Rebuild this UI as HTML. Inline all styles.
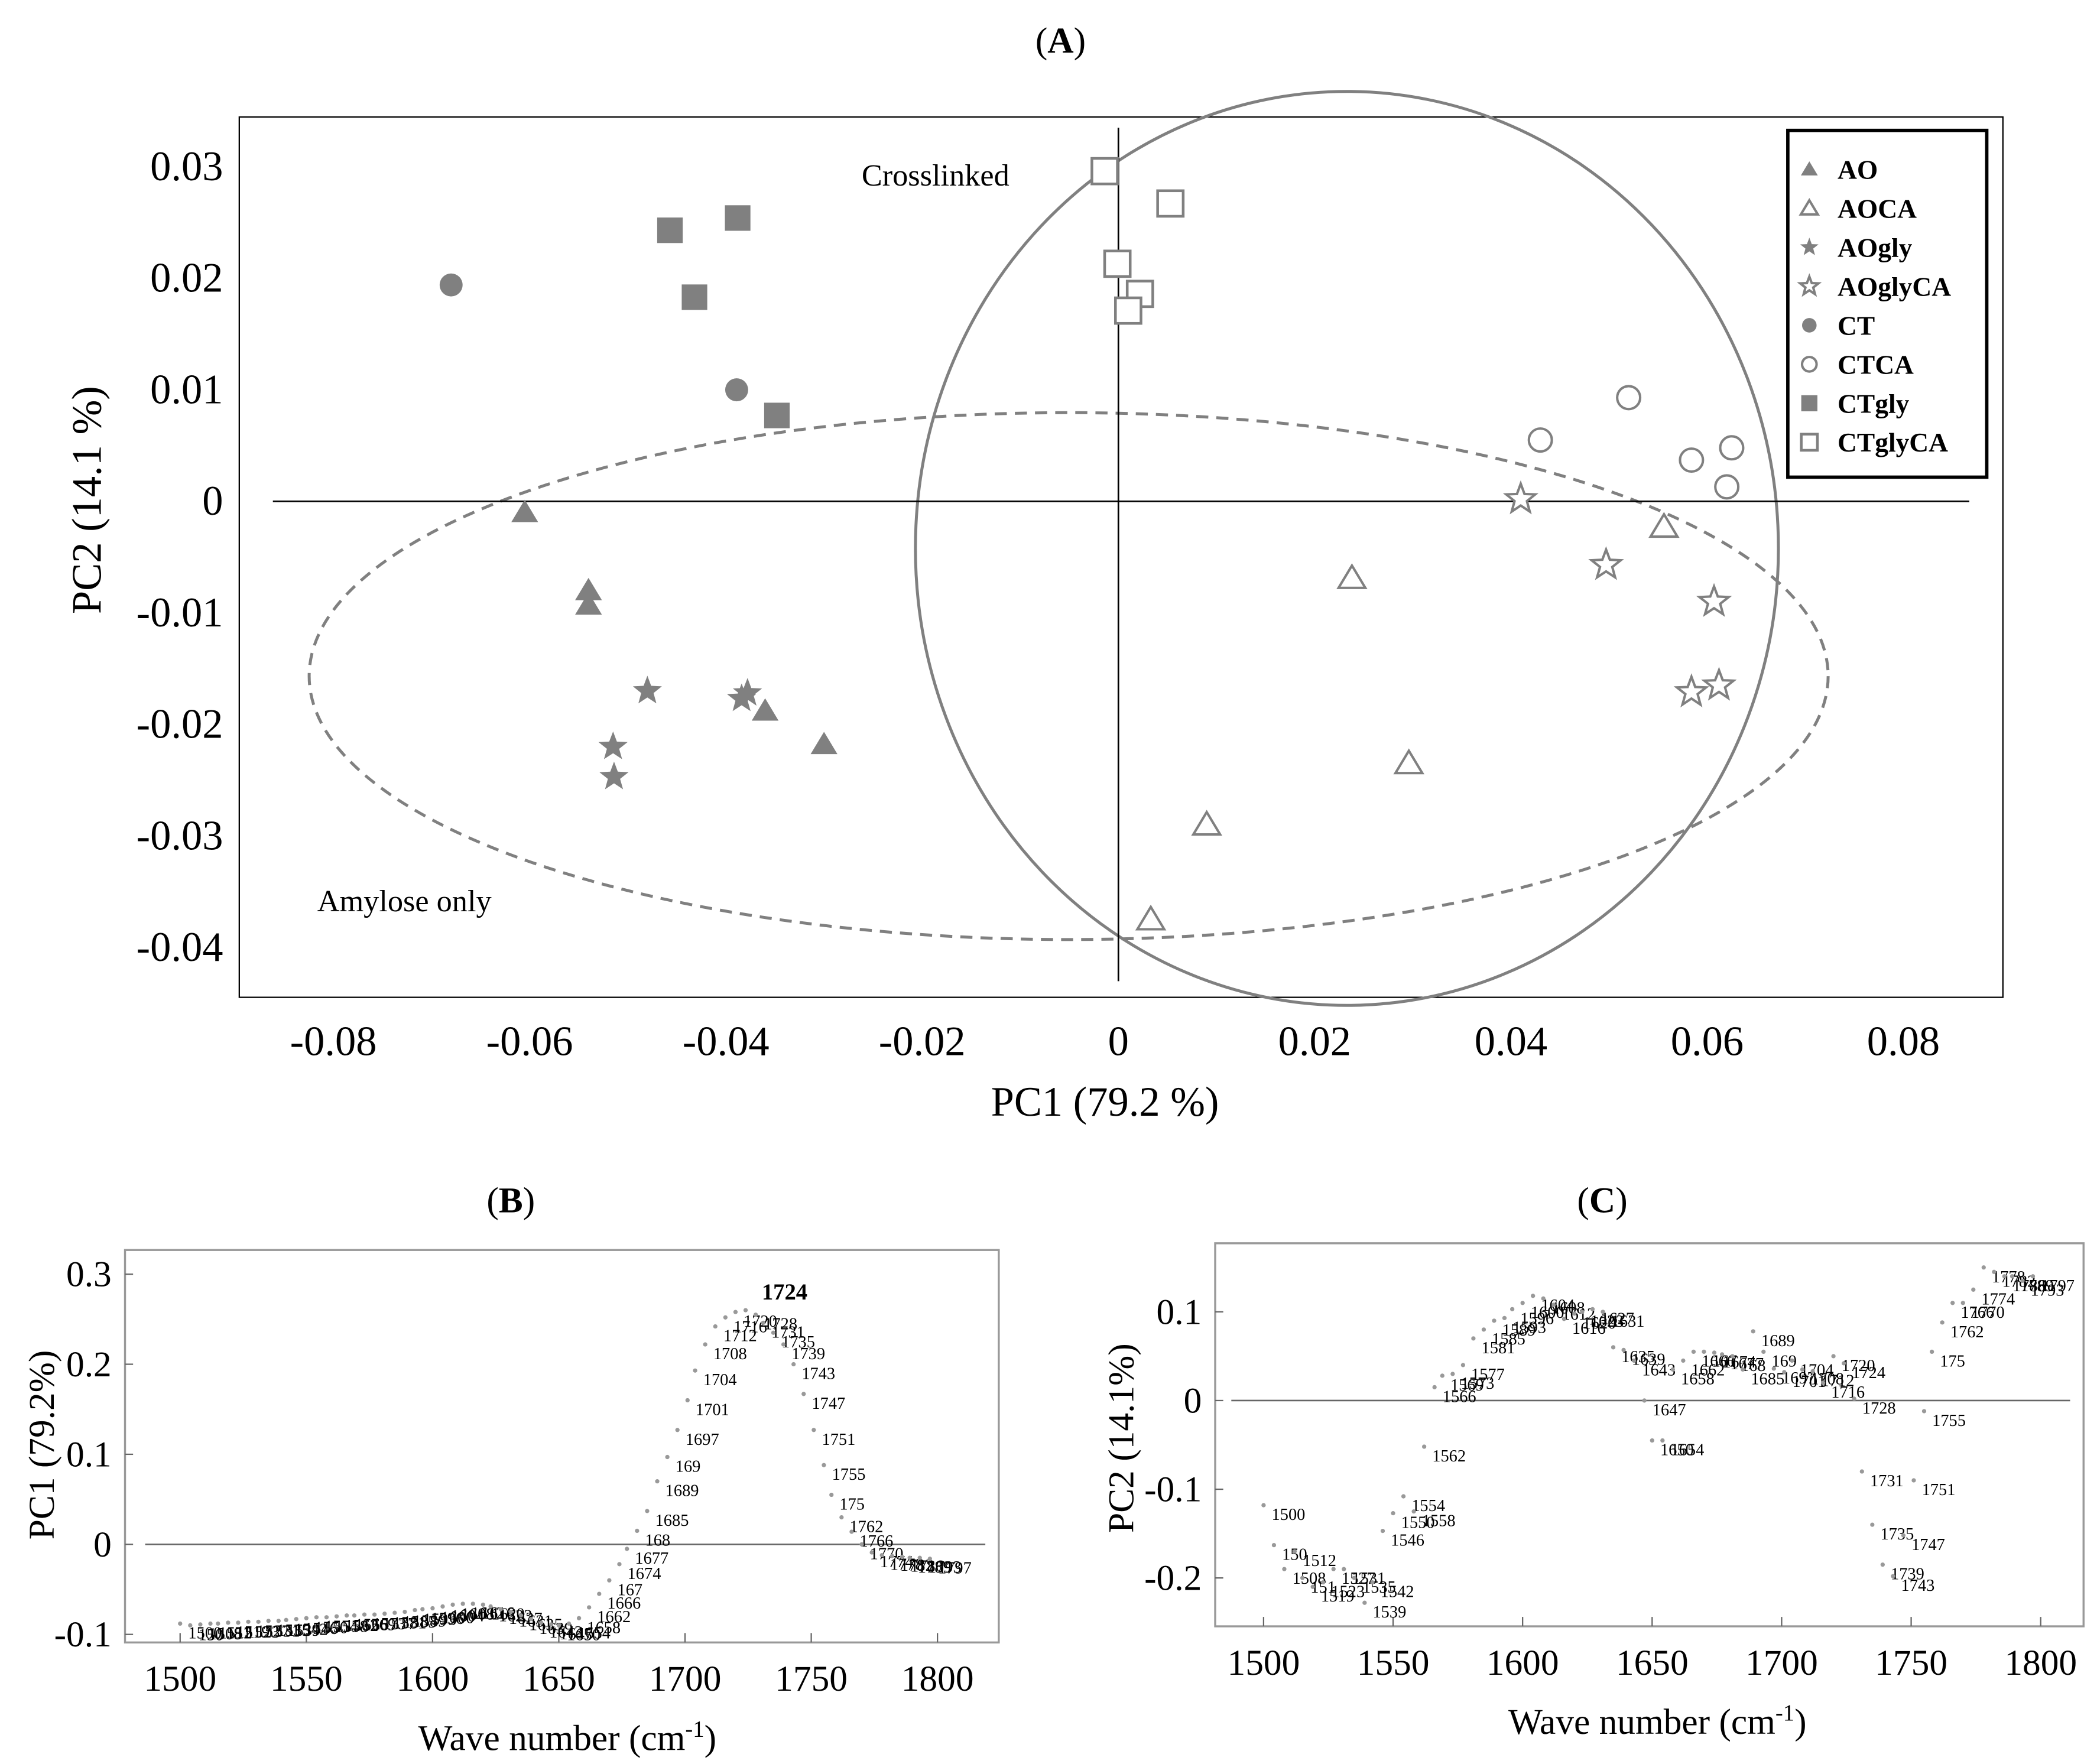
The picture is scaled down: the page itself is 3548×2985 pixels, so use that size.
<!DOCTYPE html>
<html><head><meta charset="utf-8"><style>
html,body{margin:0;padding:0;background:#fff}
svg{display:block;font-family:"Liberation Serif",serif}
</style></head><body>
<svg id="fig" width="3548" height="2985" viewBox="0 0 1560 1312.4" xmlns="http://www.w3.org/2000/svg">
<rect width="1560" height="1312.4" fill="#fff"/>
<g id="pa"></g>
<g id="pb"></g>
<g id="pc"></g>
</svg>
<script>
// ---------- Panel A data ----------
const groups = ["AO","AOCA","AOgly","AOglyCA","CT","CTCA","CTgly","CTglyCA"];
const AO_x = [-0.0605,-0.054,-0.054,-0.036,-0.030];
const AO_y = [-0.001,-0.008,-0.0093,-0.0188,-0.0218];
const AOCA_x = [0.0238,0.0556,0.0296,0.009,0.0033];
const AOCA_y = [-0.0069,-0.0023,-0.0235,-0.029,-0.0375];
const AOgly_x = [-0.048,-0.0515,-0.0514,-0.0384,-0.0378];
const AOgly_y = [-0.017,-0.022,-0.0247,-0.0177,-0.0172];
const AOglyCA_x = [0.041,0.0497,0.0607,0.0584,0.0612];
const AOglyCA_y = [0.0002,-0.0057,-0.009,-0.0171,-0.0165];
const CT_x = [-0.068,-0.0389];
const CT_y = [0.0194,0.010];
const CTCA_x = [0.043,0.052,0.0584,0.0625,0.062];
const CTCA_y = [0.0055,0.0093,0.0037,0.0048,0.0013];
const CTgly_x = [-0.0457,-0.0388,-0.0432,-0.0348];
const CTgly_y = [0.0243,0.0254,0.0183,0.0077];
const CTglyCA_x = [-0.0014,0.0053,-0.0001,0.0022,0.001];
const CTglyCA_y = [0.0296,0.0267,0.0213,0.0186,0.0171];
const aXTicks = [-0.08,-0.06,-0.04,-0.02,0,0.02,0.04,0.06,0.08];
const aXTickLabels = ["-0.08","-0.06","-0.04","-0.02","0","0.02","0.04","0.06","0.08"];
const aYTicks = [0.03,0.02,0.01,0,-0.01,-0.02,-0.03,-0.04];
const aYTickLabels = ["0.03","0.02","0.01","0","-0.01","-0.02","-0.03","-0.04"];

// ---------- Panels B/C data ----------
const waves = [1500,1504,1508,1512,1515,1519,1523,1527,1531,1535,1539,1542,1546,1550,1554,1558,1562,1566,1569,1573,1577,1581,1585,1589,1593,1596,1600,1604,1608,1612,1616,1620,1623,1627,1631,1635,1639,1643,1647,1650,1654,1658,1662,1666,1670,1674,1677,1681,1685,1689,1693,1697,1701,1704,1708,1712,1716,1720,1724,1728,1731,1735,1739,1743,1747,1751,1755,1758,1762,1766,1770,1774,1778,1782,1786,1789,1793,1797];
const waveLabels = ["1500","150","1508","1512","151","1519","1523","1527","1531","1535","1539","1542","1546","1550","1554","1558","1562","1566","1569","1573","1577","1581","1585","1589","1593","1596","1600","1604","1608","1612","1616","1620","1623","1627","1631","1635","1639","1643","1647","1650","1654","1658","1662","1666","167","1674","1677","168","1685","1689","169","1697","1701","1704","1708","1712","1716","1720","1724","1728","1731","1735","1739","1743","1747","1751","1755","175","1762","1766","1770","1774","1778","1782","1786","1789","1793","1797"];
const pc1Load = [-0.088,-0.09,-0.089,-0.088,-0.088,-0.087,-0.087,-0.086,-0.086,-0.085,-0.085,-0.084,-0.083,-0.082,-0.081,-0.081,-0.080,-0.079,-0.079,-0.078,-0.078,-0.077,-0.076,-0.075,-0.073,-0.072,-0.071,-0.069,-0.067,-0.066,-0.066,-0.067,-0.069,-0.072,-0.075,-0.079,-0.083,-0.087,-0.089,-0.09,-0.088,-0.082,-0.07,-0.055,-0.04,-0.022,-0.005,0.015,0.037,0.07,0.097,0.127,0.16,0.193,0.222,0.242,0.252,0.258,0.26,0.255,0.246,0.235,0.222,0.2,0.167,0.127,0.088,0.055,0.03,0.014,0,-0.009,-0.012,-0.013,-0.014,-0.015,-0.015,-0.016];
const pc2Load = [-0.118,-0.163,-0.19,-0.17,-0.2,-0.21,-0.205,-0.19,-0.19,-0.2,-0.228,-0.205,-0.147,-0.127,-0.108,-0.125,-0.052,0.015,0.028,0.03,0.04,0.07,0.08,0.09,0.093,0.103,0.11,0.118,0.115,0.108,0.092,0.098,0.1,0.103,0.1,0.06,0.057,0.045,0.0,-0.045,-0.045,0.035,0.045,0.055,0.055,0.054,0.052,0.05,0.035,0.078,0.055,0.036,0.032,0.045,0.035,0.033,0.02,0.05,0.042,0.002,-0.08,-0.14,-0.185,-0.198,-0.152,-0.09,-0.012,0.055,0.088,0.11,0.11,0.125,0.15,0.145,0.14,0.14,0.135,0.14];
const waveTicks = [1500,1550,1600,1650,1700,1750,1800];
const bYTicks = [0.3,0.2,0.1,0,-0.1];
const bYTickLabels = ["0.3","0.2","0.1","0","-0.1"];
const cYTicks = [0.1,0,-0.1,-0.2];
const cYTickLabels = ["0.1","0","-0.1","-0.2"];

const NS="http://www.w3.org/2000/svg";
function mk(parent,tag,attrs,text){const e=document.createElementNS(NS,tag);for(const k in attrs)e.setAttribute(k,attrs[k]);if(text!==undefined)e.textContent=text;parent.appendChild(e);return e;}
const G="#808080";

// ---------- Panel A ----------
const pa=document.getElementById('pa');
const ax=v=>832+v*7300, ay=v=>373-v*8300;
let t=mk(pa,'text',{x:789,y:39,'text-anchor':'middle','font-size':27});


t.innerHTML='(<tspan font-weight="bold">A</tspan>)';
let fr=mk(pa,'rect',{x:178,y:87,width:1312,height:655,fill:'none',stroke:'#000','stroke-width':1});


let e1=mk(pa,'ellipse',{cx:1002,cy:408,rx:321,ry:340,fill:'none',stroke:G,'stroke-width':2.2});


let e2=mk(pa,'ellipse',{cx:795,cy:503,rx:565,ry:196,fill:'none',stroke:G,'stroke-width':2.2,'stroke-dasharray':'9,6'});


let hz=mk(pa,'line',{x1:203,y1:ay(0),x2:1465,y2:ay(0),stroke:'#000','stroke-width':1.2});


let vz=mk(pa,'line',{x1:ax(0),y1:95,x2:ax(0),y2:730,stroke:'#000','stroke-width':1.2});


aXTicks.forEach((v,i)=>{const l=mk(pa,'text',{x:ax(v),y:785,'text-anchor':'middle','font-size':31},aXTickLabels[i]);

});
aYTicks.forEach((v,i)=>{const l=mk(pa,'text',{x:166,y:ay(v)+10,'text-anchor':'end','font-size':31},aYTickLabels[i]);

});
t=mk(pa,'text',{x:822,y:830,'text-anchor':'middle','font-size':31},'PC1 (79.2 %)');


t=mk(pa,'text',{x:0,y:0,'text-anchor':'middle','font-size':31,transform:'translate(75,372) rotate(-90)'},'PC2 (14.1 %)');


t=mk(pa,'text',{x:641,y:138,'font-size':23},'Crosslinked');


t=mk(pa,'text',{x:236,y:678,'font-size':23},'Amylose only');



function starPts(cx,cy,R){const r=R*0.42;let p=[];for(let i=0;i<10;i++){const a=-Math.PI/2+i*Math.PI/5;const rr=i%2?r:R;p.push((cx+rr*Math.cos(a)).toFixed(1)+','+(cy+rr*Math.sin(a)).toFixed(1));}return p.join(' ');}
function marker(parent,shape,filled,cx,cy,s){
  const fill=filled?G:'#fff', sw=filled?0:2;
  if(shape==='tri') return mk(parent,'polygon',{points:`${cx},${cy-s} ${cx-s*1.05},${cy+s*0.75} ${cx+s*1.05},${cy+s*0.75}`,fill:fill,stroke:G,'stroke-width':filled?0:1.8});
  if(shape==='star') return mk(parent,'polygon',{points:starPts(cx,cy,s*1.2),fill:fill,stroke:G,'stroke-width':filled?0:1.8});
  if(shape==='circ') return mk(parent,'circle',{cx:cx,cy:cy,r:s*0.9,fill:fill,stroke:G,'stroke-width':filled?0:1.8});
  return mk(parent,'rect',{x:cx-s,y:cy-s,width:2*s,height:2*s,fill:fill,stroke:G,'stroke-width':sw});
}
const gx=[AO_x,AOCA_x,AOgly_x,AOglyCA_x,CT_x,CTCA_x,CTgly_x,CTglyCA_x];
const gy=[AO_y,AOCA_y,AOgly_y,AOglyCA_y,CT_y,CTCA_y,CTgly_y,CTglyCA_y];
const shapes=['tri','tri','star','star','circ','circ','sq','sq'];
const filledArr=[true,false,true,false,true,false,true,false];
groups.forEach((g,gi)=>{
  gx[gi].forEach((v,i)=>{const m=marker(pa,shapes[gi],filledArr[gi],ax(v),ay(gy[gi][i]),9.5);
  
  });
});
const leg=mk(pa,'g',{});


mk(leg,'rect',{x:1330,y:97,width:148,height:258,fill:'#fff',stroke:'#000','stroke-width':2.5});
groups.forEach((g,gi)=>{const y=126+gi*29;const m=marker(leg,shapes[gi],filledArr[gi],1346,y,6);
  
  
  const l=mk(leg,'text',{x:1367,y:y+7,'font-size':20,'font-weight':'bold'},g);
  
  });

// ---------- loading panels ----------
function loadPanel(pg,cfg){
  const X=w=>cfg.x0+(w-1500)*cfg.xs, Y=v=>cfg.y0-v*cfg.ys;
  let tt=mk(pg,'text',{x:cfg.tx,y:cfg.ty,'text-anchor':'middle','font-size':27});
  
  
  tt.innerHTML='(<tspan font-weight="bold">'+cfg.letter+'</tspan>)';
  const f=mk(pg,'rect',{x:cfg.fx,y:cfg.fy,width:cfg.fw,height:cfg.fh,fill:'none',stroke:'#999','stroke-width':1.5});
  
  
  const z=mk(pg,'line',{x1:cfg.zx1,y1:Y(0),x2:cfg.zx2,y2:Y(0),stroke:'#666','stroke-width':1.2});
  
  
  waveTicks.forEach(w=>{
    const tk=mk(pg,'line',{x1:X(w),y1:cfg.fy+cfg.fh,x2:X(w),y2:cfg.fy+cfg.fh-7,stroke:'#666'});
    
    
    const l=mk(pg,'text',{x:X(w),y:cfg.fy+cfg.fh+36,'text-anchor':'middle','font-size':27},String(w));
    
    });
  cfg.yt.forEach((v,i)=>{
    const tk=mk(pg,'line',{x1:cfg.fx,y1:Y(v),x2:cfg.fx+6,y2:Y(v),stroke:'#666'});
    
    
    const l=mk(pg,'text',{x:cfg.fx-10,y:Y(v)+9,'text-anchor':'end','font-size':27},cfg.ytl[i]);
    
    });
  let at=mk(pg,'text',{x:cfg.xtx,y:cfg.xty,'text-anchor':'middle','font-size':27});
  
  
  at.innerHTML='Wave number (cm<tspan dy="-10" font-size="17">-1</tspan><tspan dy="10">)</tspan>';
  at=mk(pg,'text',{x:0,y:0,'text-anchor':'middle','font-size':27,transform:`translate(${cfg.ytx},${cfg.yty}) rotate(-90)`},cfg.ytitle);
  
  
  waves.forEach((w,i)=>{
    const px=X(w), py=Y(cfg.vals[i]);
    const d=mk(pg,'circle',{cx:px,cy:py,r:1.6,fill:'#999'});
    
    
    const big=(cfg.key==='panel-b'&&waveLabels[i]==='1724');
    const l=big?mk(pg,'text',{x:px+12,y:py-8,'font-size':17,'font-weight':'bold'},waveLabels[i])
               :mk(pg,'text',{x:px+6,y:py+11,'font-size':12.5},waveLabels[i]);
    
    
  });
}
loadPanel(document.getElementById('pb'),{key:'panel-b',letter:'B',tx:380,ty:902,fx:93,fy:930,fw:650,fh:292,x0:134,xs:1.878,y0:1149,ys:670,zx1:108,zx2:733,yt:bYTicks,ytl:bYTickLabels,xtx:422,xty:1302,ytx:40,yty:1075,ytitle:'PC1 (79.2%)',vals:pc1Load});
loadPanel(document.getElementById('pc'),{key:'panel-c',letter:'C',tx:1192,ty:902,fx:904,fy:925,fw:646,fh:285,x0:940,xs:1.927,y0:1042,ys:660,zx1:916,zx2:1540,yt:cYTicks,ytl:cYTickLabels,xtx:1233,xty:1290,ytx:843,yty:1070,ytitle:'PC2 (14.1%)',vals:pc2Load});
</script>
</body></html>
